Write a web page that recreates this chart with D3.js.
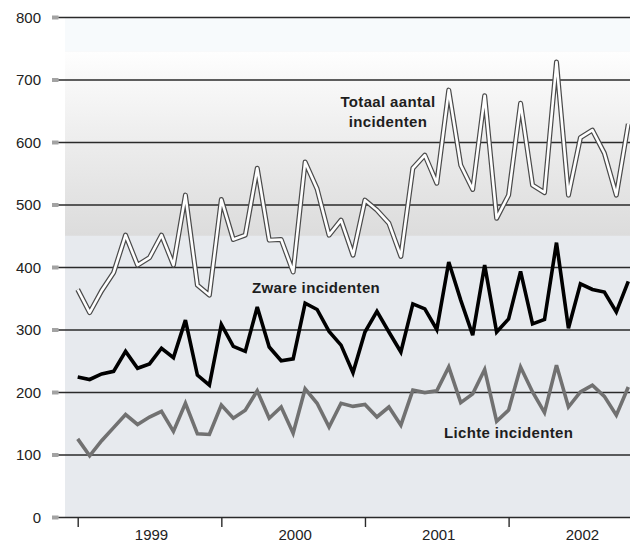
<!DOCTYPE html>
<html>
<head>
<meta charset="utf-8">
<script src="https://cdn.jsdelivr.net/npm/d3@7/dist/d3.min.js"></script>
<style>
  html, body { margin: 0; padding: 0; background: #ffffff; }
  svg { display: block; font-family: "Liberation Sans", Arial, Helvetica, sans-serif; }
</style>
</head>
<body>
<svg id="chart" width="630" height="542"></svg>
<script>
// ---- data (monthly, Jan 1999 onward) ----
const years = ["1999", "2000", "2001", "2002"];
const yTicks = [0, 100, 200, 300, 400, 500, 600, 700, 800];

const totaal = [364, 327, 362, 391, 451, 403, 415, 451, 403, 515, 371, 355,
                508, 444, 451, 558, 443, 444, 392, 568, 525, 451, 475, 419,
                507, 491, 470, 417, 558, 579, 534, 683, 563, 524, 674, 478,
                515, 662, 531, 519, 728, 515, 607, 619, 582, 515, 629];

const zware = [224, 220, 229, 233, 265, 238, 245, 270, 255, 315, 227, 211,
               308, 273, 265, 336, 272, 250, 253, 342, 332, 297, 275, 231,
               296, 329, 296, 264, 341, 333, 300, 408, 347, 291, 403, 296,
               317, 393, 309, 316, 439, 302, 373, 364, 360, 328, 377];

const lichte = [125, 98, 122, 143, 164, 148, 160, 169, 137, 182, 133, 132,
                179, 158, 171, 202, 158, 176, 134, 205, 182, 144, 182, 177,
                180, 160, 176, 147, 203, 199, 202, 240, 183, 197, 236, 153,
                171, 240, 200, 167, 243, 176, 200, 211, 193, 163, 208];

const seriesLabels = ["Totaal aantal", "incidenten", "Zware incidenten", "Lichte incidenten"];

// ---- layout ----
const svg = d3.select("#chart");
const W = 630, H = 542;
const plotLeft = 65, plotRight = 630, axisLeft = 52;
const y = d3.scaleLinear().domain([0, 800]).range([517, 17]);
const x = d3.scaleLinear().domain([0, 46]).range([77.7, 628.3]);

// ---- background ----
const defs = svg.append("defs");
const grad = defs.append("linearGradient").attr("id", "bandGrad")
  .attr("x1", 0).attr("y1", 0).attr("x2", 0).attr("y2", 1);
grad.append("stop").attr("offset", "0%").attr("stop-color", "#fefefe");
grad.append("stop").attr("offset", "45%").attr("stop-color", "#eeeeee");
grad.append("stop").attr("offset", "100%").attr("stop-color", "#dcdcdc");

defs.append("clipPath").attr("id", "plotClip").append("rect")
  .attr("x", plotLeft).attr("y", 0).attr("width", plotRight - plotLeft).attr("height", H);

svg.append("rect").attr("x", plotLeft).attr("y", y(800))
  .attr("width", plotRight - plotLeft).attr("height", y(0) - y(800))
  .attr("fill", "#e7eaee");
svg.append("rect").attr("x", plotLeft).attr("y", y(800))
  .attr("width", plotRight - plotLeft).attr("height", y(745) - y(800))
  .attr("fill", "#f7fafc");
svg.append("rect").attr("x", plotLeft).attr("y", y(745))
  .attr("width", plotRight - plotLeft).attr("height", y(450) - y(745))
  .attr("fill", "url(#bandGrad)");

// ---- y axis: grey ticks + gridlines ----
const yAxis = d3.axisLeft(y).tickValues(yTicks).tickSize(0).tickPadding(0);
const gy = svg.append("g").attr("transform", `translate(${axisLeft},0)`).call(yAxis);
gy.select(".domain").remove();
gy.selectAll(".tick text")
  .attr("x", 41 - axisLeft).attr("dy", "0.35em")
  .attr("font-size", 15).attr("fill", "#222")
  .attr("font-family", "'Liberation Sans', Arial, sans-serif");
gy.selectAll(".tick").append("rect")
  .attr("x", 0).attr("y", -2).attr("width", 6.5).attr("height", 4)
  .attr("fill", "#a3a3a3");
gy.selectAll(".tick").append("line")
  .attr("x1", 6.5).attr("x2", plotRight - axisLeft)
  .attr("stroke", "#2a2a2a").attr("stroke-width", 1.4);

// ---- x axis: year ticks ----
const xAxis = d3.axisBottom(x).tickValues([0, 12, 24, 36]).tickSize(10).tickFormat("");
const gx = svg.append("g").attr("transform", `translate(0,${y(0)})`).call(xAxis);
gx.select(".domain").remove();
gx.selectAll(".tick line").attr("stroke", "#2a2a2a").attr("stroke-width", 1.4);

svg.append("g").selectAll("text").data(years).join("text")
  .attr("x", (d, i) => x(i * 12 + 6) + 2)
  .attr("y", 540)
  .attr("text-anchor", "middle")
  .attr("font-size", 15).attr("fill", "#222")
  .text(d => d);

// ---- lines ----
const line = d3.line().x((d, i) => x(i)).y(d => y(d));
const lines = svg.append("g").attr("clip-path", "url(#plotClip)");

lines.append("path").datum(lichte).attr("d", line)
  .attr("fill", "none").attr("stroke", "#717171").attr("stroke-width", 3.6)
  .attr("stroke-linejoin", "miter").attr("stroke-miterlimit", 3);

lines.append("path").datum(zware).attr("d", line)
  .attr("fill", "none").attr("stroke", "#000").attr("stroke-width", 3.6)
  .attr("stroke-linejoin", "miter").attr("stroke-miterlimit", 3);

lines.append("path").datum(totaal).attr("d", line)
  .attr("fill", "none").attr("stroke", "#4a4a4a").attr("stroke-width", 5)
  .attr("stroke-linejoin", "round");
lines.append("path").datum(totaal).attr("d", line)
  .attr("fill", "none").attr("stroke", "#ffffff").attr("stroke-width", 2.6)
  .attr("stroke-linejoin", "round");

// ---- labels ----
const lab = svg.append("g").attr("font-size", 15).attr("font-weight", "bold")
  .attr("fill", "#1e1e1e").attr("letter-spacing", "0.35px");
lab.append("text").attr("x", 388).attr("y", 107).attr("text-anchor", "middle").text(seriesLabels[0]);
lab.append("text").attr("x", 388).attr("y", 127).attr("text-anchor", "middle").text(seriesLabels[1]);
lab.append("text").attr("x", 252).attr("y", 293).text(seriesLabels[2]);
lab.append("text").attr("x", 444).attr("y", 438).text(seriesLabels[3]);
</script>
</body>
</html>
